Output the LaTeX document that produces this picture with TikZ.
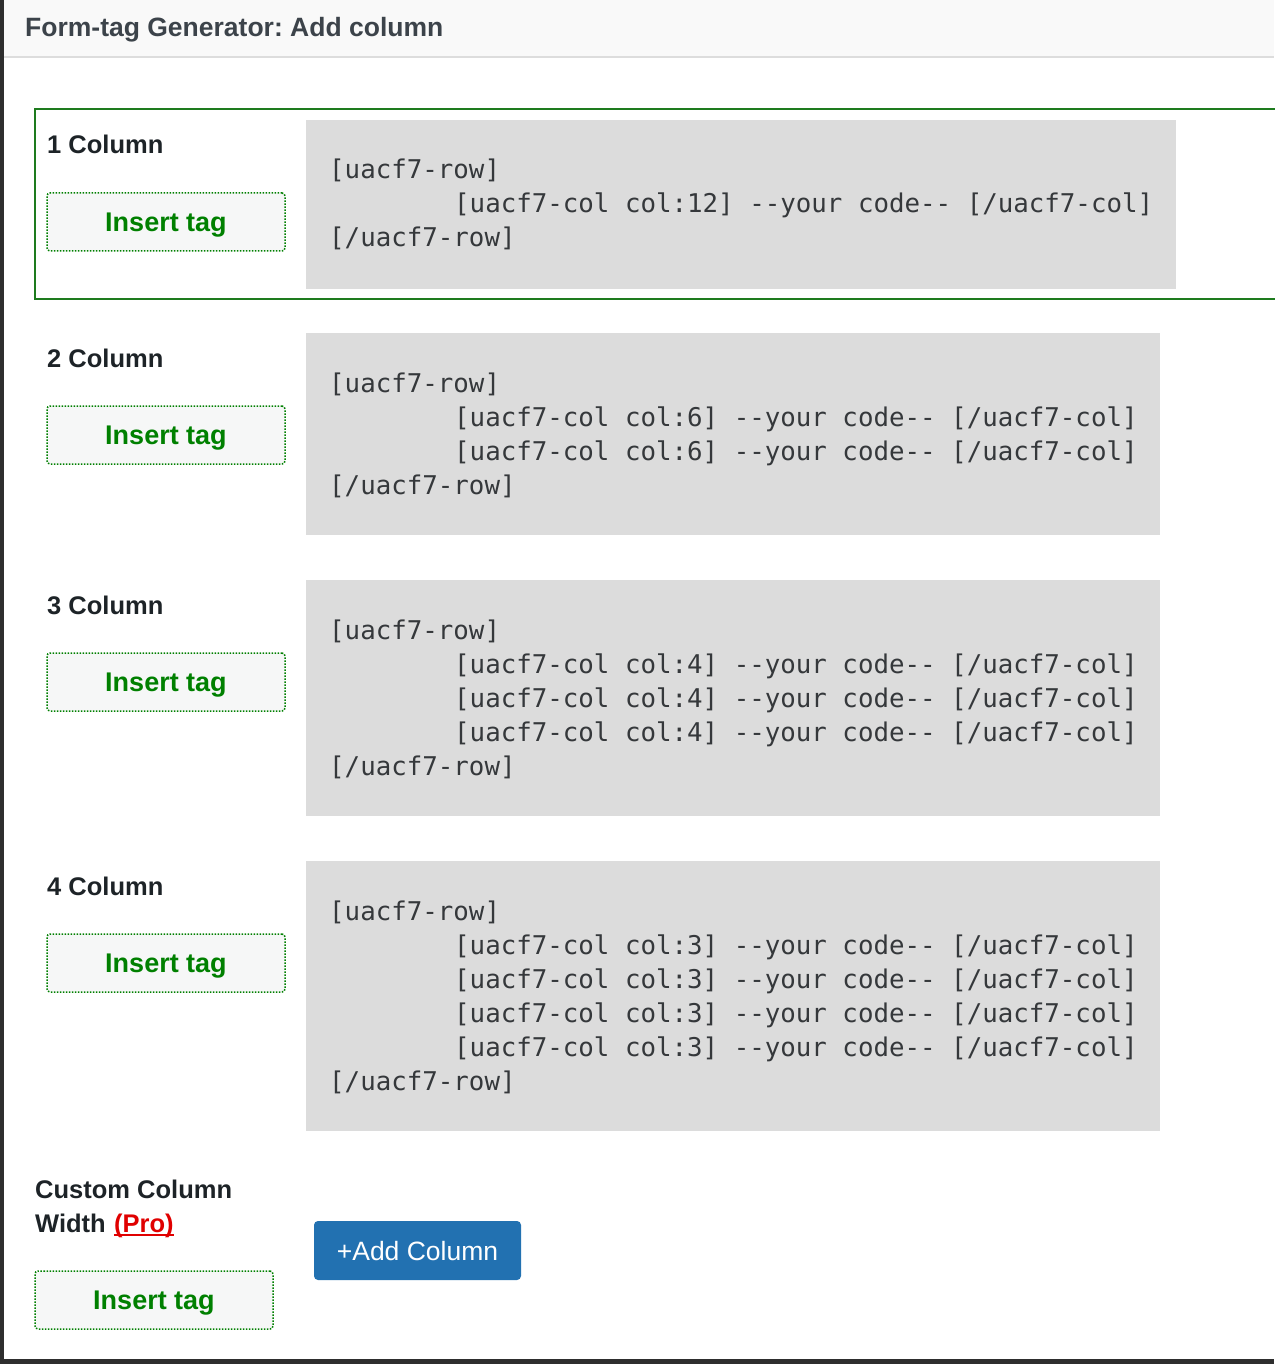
\documentclass[tikz,border=0pt]{standalone}
\usepackage{fontspec}
\setmainfont{Liberation Sans}
\setmonofont{DejaVu Sans Mono}
\frenchspacing
\definecolor{hdrbg}{HTML}{F9F9F9}
\definecolor{hdrline}{HTML}{DDDDDD}
\definecolor{edgedark}{HTML}{2E2E2E}
\definecolor{frame}{HTML}{1E7B1E}
\definecolor{btngreen}{HTML}{008000}
\definecolor{btnfill}{HTML}{F6F7F7}
\definecolor{codebg}{HTML}{DCDCDC}
\definecolor{codetxt}{HTML}{35383B}
\definecolor{labeltxt}{HTML}{1D2327}
\definecolor{titletxt}{HTML}{3C434A}
\definecolor{prored}{HTML}{E00000}
\definecolor{wpblue}{HTML}{2271B1}
\begin{document}
\begin{tikzpicture}[x=1pt,y=-1pt,
  label/.style={anchor=base west,inner sep=0,text=labeltxt,font=\fontsize{25.5}{30}\selectfont\bfseries},
  insbtn/.style={draw=btngreen,fill=btnfill,line width=1.5pt,dash pattern=on 1.5pt off 1.5pt,rounded corners=3pt,
    minimum width=238pt,minimum height=58pt,inner sep=0,text depth=0pt,text=btngreen,font=\fontsize{27}{30}\selectfont\bfseries},
  codebox/.style={fill=codebg,anchor=north west,inner sep=0,outer sep=0},
  codeln/.style={anchor=base west,inner sep=0,text=codetxt,font=\fontsize{25.8}{34}\selectfont\ttfamily},
  addbtn/.style={fill=wpblue,rounded corners=4pt,minimum width=207pt,minimum height=59pt,inner sep=0,text depth=0pt,
    text=white,font=\fontsize{26.5}{30}\selectfont}]
\useasboundingbox (0,0) rectangle (1274,1364);
\fill[white] (0,0) rectangle (1274,1364);
% header
\fill[hdrbg] (0,0) rectangle (1274,56);
\draw[hdrline,line width=2pt] (0,57) -- (1274,57);
\node[anchor=base west,inner sep=0,text=titletxt,font=\fontsize{26.5}{30}\selectfont\bfseries] (title) at (25,37) {Form-tag Generator: Add column};
% window edges
\fill[edgedark] (0,0) rectangle (4,1364);
\fill[edgedark] (0,1359) rectangle (1274,1364);
% selected frame
\coordinate (f1) at (1280,109);
\coordinate (f2) at (35,109);
\coordinate (f3) at (35,299);
\coordinate (f4) at (1280,299);
\draw[frame,line width=2pt] (f1) -- (f2) -- (f3) -- (f4);

% ---- section 1
\node[label] (l1) at (47,154) {1 Column};
\node[insbtn] (b1) at (166,222) {Insert tag};
\node[codebox,minimum width=870pt,minimum height=169pt] (c1) at (306,120) {};
\node[codeln] (c1a) at (329,179) {[uacf7-row]};
\node[codeln] (c1b) at (454,213) {[uacf7-col col:12] -{}-your code-{}- [/uacf7-col]};
\node[codeln] (c1c) at (329,247) {[/uacf7-row]};

% ---- section 2
\node[label] (l2) at (47,367) {2 Column};
\node[insbtn] (b2) at (166,435) {Insert tag};
\node[codebox,minimum width=854pt,minimum height=202pt] (c2) at (306,333) {};
\node[codeln] (c2a) at (329,392) {[uacf7-row]};
\node[codeln] (c2b) at (454,426) {[uacf7-col col:6] -{}-your code-{}- [/uacf7-col]};
\node[codeln] (c2c) at (454,460) {[uacf7-col col:6] -{}-your code-{}- [/uacf7-col]};
\node[codeln] (c2d) at (329,494) {[/uacf7-row]};

% ---- section 3
\node[label] (l3) at (47,614) {3 Column};
\node[insbtn] (b3) at (166,682) {Insert tag};
\node[codebox,minimum width=854pt,minimum height=236pt] (c3) at (306,580) {};
\node[codeln] (c3a) at (329,639) {[uacf7-row]};
\node[codeln] (c3b) at (454,673) {[uacf7-col col:4] -{}-your code-{}- [/uacf7-col]};
\node[codeln] (c3c) at (454,707) {[uacf7-col col:4] -{}-your code-{}- [/uacf7-col]};
\node[codeln] (c3d) at (454,741) {[uacf7-col col:4] -{}-your code-{}- [/uacf7-col]};
\node[codeln] (c3e) at (329,775) {[/uacf7-row]};

% ---- section 4
\node[label] (l4) at (47,895) {4 Column};
\node[insbtn] (b4) at (166,963) {Insert tag};
\node[codebox,minimum width=854pt,minimum height=270pt] (c4) at (306,861) {};
\node[codeln] (c4a) at (329,920) {[uacf7-row]};
\node[codeln] (c4b) at (454,954) {[uacf7-col col:3] -{}-your code-{}- [/uacf7-col]};
\node[codeln] (c4c) at (454,988) {[uacf7-col col:3] -{}-your code-{}- [/uacf7-col]};
\node[codeln] (c4d) at (454,1022) {[uacf7-col col:3] -{}-your code-{}- [/uacf7-col]};
\node[codeln] (c4e) at (454,1056) {[uacf7-col col:3] -{}-your code-{}- [/uacf7-col]};
\node[codeln] (c4f) at (329,1090) {[/uacf7-row]};

% ---- custom
\node[label] (l5) at (35,1198) {Custom Column};
\node[label] (l6) at (35,1232) {Width};
\node[label,text=prored] (pro) at ([xshift=8pt]l6.base east) {(Pro)};
\draw[prored,line width=1.6pt] ([yshift=-3pt]pro.base west) -- ([yshift=-3pt]pro.base east);
\node[insbtn] (b5) at (154,1300) {Insert tag};
\node[addbtn] (add) at (417.5,1250.5) {+Add Column};
\end{tikzpicture}
\end{document}
